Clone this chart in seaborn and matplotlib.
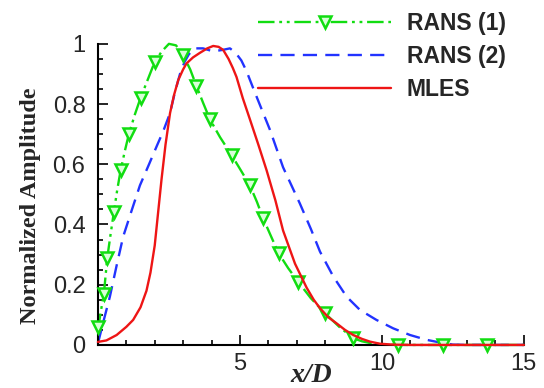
import numpy as np
import pandas as pd
import matplotlib
matplotlib.use("Agg")
import matplotlib.pyplot as plt
from matplotlib.lines import Line2D
from matplotlib.ticker import MultipleLocator
import seaborn as sns

# RANS (1) curve
rans1_x = [0, 0.1, 0.21, 0.33, 0.45, 0.56, 0.68, 0.8, 0.95, 1.09, 1.3, 1.5, 1.75, 2.0, 2.25, 2.5, 2.75,
           3.0, 3.25, 3.47, 3.7, 3.94, 4.3, 4.71, 5.0, 5.35, 5.6, 5.82, 6.1, 6.36, 6.7, 7.05, 7.5,
           8.0, 8.5, 9.0, 9.3, 9.6, 10.0, 10.57, 12.15, 13.7, 15]
rans1_y = [0.05, 0.11, 0.17, 0.29, 0.37, 0.44, 0.515, 0.58, 0.645, 0.70, 0.765, 0.82, 0.88, 0.94, 0.975,
           1.0, 0.995, 0.963, 0.915, 0.86, 0.805, 0.75, 0.69, 0.63, 0.585, 0.53, 0.475, 0.42, 0.36,
           0.305, 0.255, 0.21, 0.155, 0.105, 0.06, 0.022, 0.012, 0.006, 0.002, 0.0, 0.0, 0.0, 0.0]
# RANS (1) symbols
rans1_mx = [0, 0.21, 0.33, 0.56, 0.8, 1.09, 1.5, 2.0, 3.0, 3.47, 3.94, 4.71, 5.35, 5.82,
            6.36, 7.05, 8.0, 9.0, 10.57, 12.15, 13.7]
rans1_my = [0.06, 0.17, 0.29, 0.44, 0.58, 0.70, 0.82, 0.94, 0.963, 0.86, 0.75, 0.63, 0.53, 0.42,
            0.305, 0.21, 0.105, 0.022, 0.0, 0.0, 0.0]

# RANS (2)
rans2_x = [0, 0.2, 0.42, 0.65, 0.89, 1.2, 1.48, 1.8, 2.07, 2.3, 2.54, 2.7, 2.89, 3.05, 3.2, 3.4,
           3.7, 4.06, 4.4, 4.65, 4.85, 5.05, 5.23, 5.5, 5.82, 6.06, 6.52, 7.11, 7.5, 7.82, 8.29,
           8.76, 9.23, 9.81, 10.4, 10.99, 11.57, 12.16, 12.5, 13.0, 15]
rans2_y = [0.005, 0.08, 0.16, 0.26, 0.36, 0.45, 0.53, 0.60, 0.66, 0.71, 0.77, 0.835, 0.90, 0.94, 0.965, 0.985,
           0.985, 0.975, 0.98, 0.985, 0.97, 0.945, 0.91, 0.845, 0.77, 0.714, 0.59, 0.47, 0.385, 0.31, 0.227,
           0.16, 0.116, 0.083, 0.055, 0.033, 0.017, 0.006, 0.001, 0.0, 0.0]

# MLES
mles_x = [0, 0.3, 0.66, 1.0, 1.24, 1.5, 1.71, 1.85, 2.0, 2.12, 2.24, 2.38, 2.54, 2.68, 2.83, 3.0,
          3.12, 3.35, 3.59, 3.85, 4.06, 4.25, 4.41, 4.6, 4.75, 4.88, 5.1, 5.35, 5.65, 5.94, 6.25,
          6.52, 6.94, 7.35, 7.6, 7.82, 8.1, 8.4, 8.7, 8.99, 9.3, 9.58, 9.93, 10.4, 11.0, 15]
mles_y = [0.01, 0.015, 0.033, 0.06, 0.083, 0.125, 0.18, 0.24, 0.33, 0.44, 0.55, 0.665, 0.77, 0.83, 0.88, 0.915,
          0.935, 0.955, 0.97, 0.985, 0.993, 0.99, 0.98, 0.95, 0.92, 0.89, 0.82, 0.75, 0.665, 0.58, 0.48,
          0.38, 0.27, 0.19, 0.15, 0.122, 0.093, 0.072, 0.05, 0.033, 0.02, 0.011, 0.004, 0.001, 0.0, 0.0]

labels = ["RANS (1)", "RANS (2)", "MLES"]
GREEN, BLUE, RED = "#11dd11", "#2233ff", "#ee1515"

sns.set_style("ticks")
plt.rcParams['font.family'] = ['Liberation Sans', 'DejaVu Sans']

fig = plt.figure(figsize=(5.44, 3.88), dpi=100)
ax = fig.add_axes([0.180, 0.111, 0.783, 0.776])

df1 = pd.DataFrame({"x": rans1_x, "y": rans1_y})
df1m = pd.DataFrame({"x": rans1_mx, "y": rans1_my})
df2 = pd.DataFrame({"x": rans2_x, "y": rans2_y})
df3 = pd.DataFrame({"x": mles_x, "y": mles_y})

g_ls = (0, (7, 2, 1.2, 2, 1.2, 2))
sns.lineplot(data=df1, x="x", y="y", ax=ax, sort=False, estimator=None, color=GREEN,
             lw=1.7, linestyle=g_ls, clip_on=False)
ax.plot(df1m["x"], df1m["y"], linestyle="none", marker="v", markersize=8.5,
        markerfacecolor="#d8ffd8", markeredgecolor=GREEN, markeredgewidth=1.8, clip_on=False, zorder=4)
sns.lineplot(data=df2, x="x", y="y", ax=ax, sort=False, estimator=None, color=BLUE,
             lw=1.7, linestyle=(0, (6, 3.5)), clip_on=False)
sns.lineplot(data=df3, x="x", y="y", ax=ax, sort=False, estimator=None, color=RED,
             lw=1.7, clip_on=False, zorder=5)

ax.set_xlim(0, 15)
ax.set_ylim(0, 1)
ax.set_xticks([0, 5, 10, 15])
ax.set_xticklabels(["", "5", "10", "15"])
ax.set_yticks([0, 0.2, 0.4, 0.6, 0.8, 1.0])
ax.set_yticklabels(["0", "0.2", "0.4", "0.6", "0.8", "1"])
ax.xaxis.set_minor_locator(MultipleLocator(1))
ax.yaxis.set_minor_locator(MultipleLocator(0.05))
ax.tick_params(which="both", direction="in", labelsize=17, width=1.2, color="black")
ax.tick_params(axis="y", pad=9)
ax.tick_params(axis="x", pad=6)
ax.tick_params(which="major", length=7)
ax.tick_params(which="minor", length=3.5)
for s in ["top", "right"]:
    ax.spines[s].set_visible(False)
for s in ["left", "bottom"]:
    ax.spines[s].set_linewidth(1.5)
    ax.spines[s].set_color("black")

ax.set_xlabel("x/D", family="Liberation Serif", fontweight="bold", fontstyle="italic",
              fontsize=20, labelpad=-9)
ax.set_ylabel("Normalized Amplitude", family="Liberation Serif", fontweight="bold",
              fontsize=17.5, labelpad=8)
ax.yaxis.label.set_y(0.462)

handles = [
    Line2D([], [], color=GREEN, lw=1.7, linestyle=g_ls, marker="v", markersize=8.5,
           markerfacecolor="#d8ffd8", markeredgecolor=GREEN, markeredgewidth=1.8),
    Line2D([], [], color=BLUE, lw=1.7, linestyle=(0, (6, 3.5))),
    Line2D([], [], color=RED, lw=1.7),
]
leg = fig.legend(handles, labels, loc="upper left", bbox_to_anchor=(0.437, 1.022),
                 frameon=False, numpoints=1, handlelength=5.8, handletextpad=0.68,
                 labelspacing=0.435, prop={"family": "Liberation Sans", "weight": "bold", "size": 16.5})

fig.savefig("out.png", dpi=100)
